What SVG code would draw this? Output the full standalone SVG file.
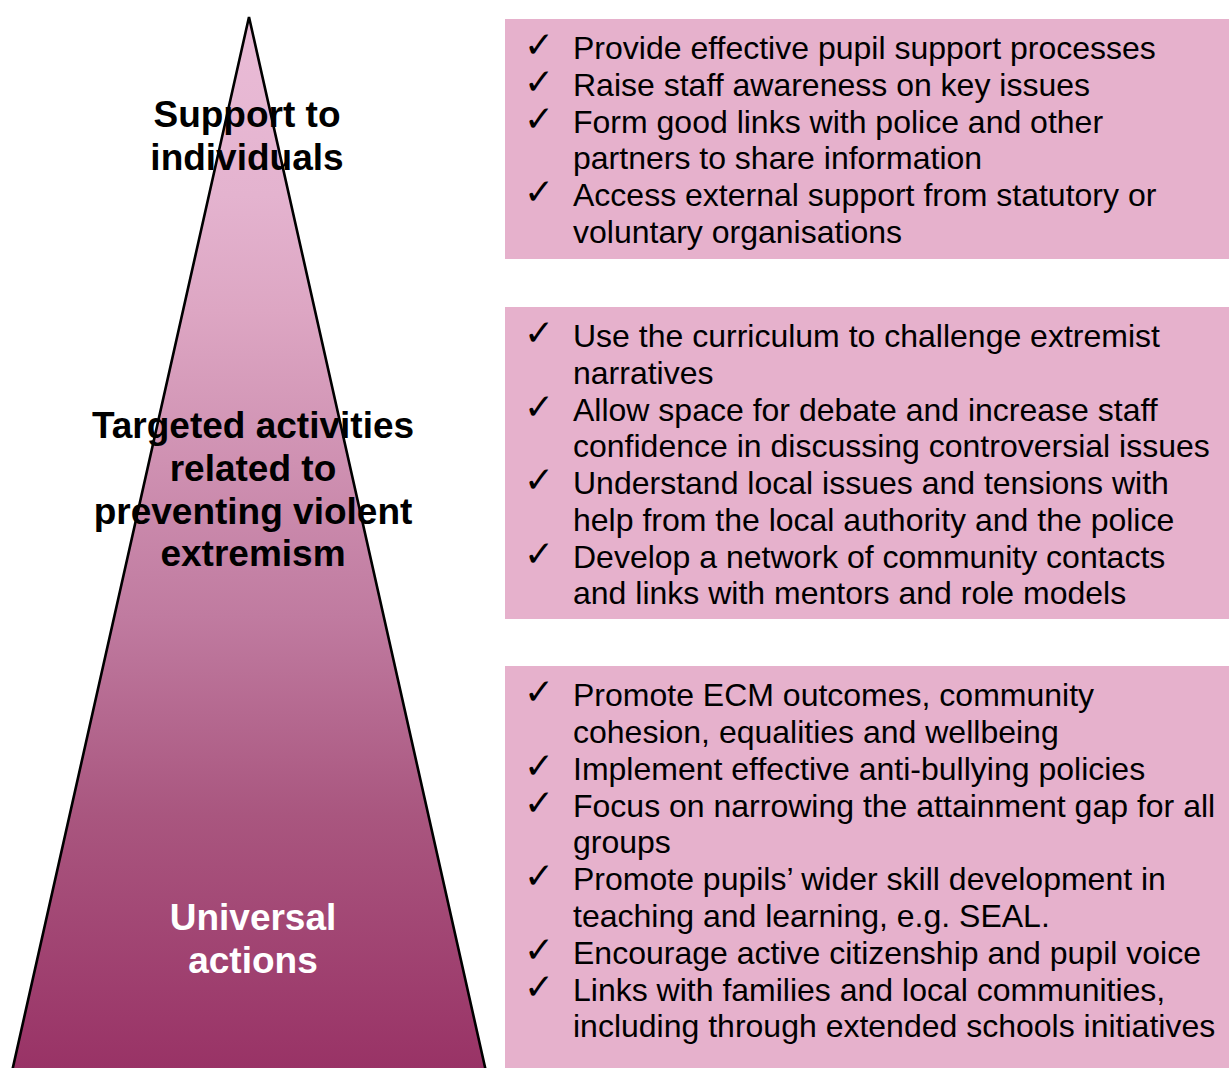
<svg xmlns="http://www.w3.org/2000/svg" width="1229" height="1068" viewBox="0 0 1229 1068">
  <defs>
    <linearGradient id="pyramidFill" gradientUnits="userSpaceOnUse" x1="0" y1="17" x2="0" y2="1068">
      <stop offset="0" stop-color="#EABCD7"/>
      <stop offset="0.17" stop-color="#E4B3CF"/>
      <stop offset="0.28" stop-color="#DDA6C3"/>
      <stop offset="0.57" stop-color="#C07BA0"/>
      <stop offset="0.76" stop-color="#A9567F"/>
      <stop offset="1" stop-color="#993366"/>
    </linearGradient>
    <style>
      .box { fill: #E6B1CC; }
      .item { font-family: "Liberation Sans", Arial, sans-serif; font-size: 32px; fill: #000; }
      .tick { font-family: "DejaVu Sans", sans-serif; font-size: 36px; fill: #000; }
      .label { font-family: "Liberation Sans", Arial, sans-serif; font-size: 37px; font-weight: bold; text-anchor: middle; fill: #000; }
      .label.light { fill: #fff; }
    </style>
  </defs>
  <rect width="1229" height="1068" fill="#fff"/>

  <!-- pyramid -->
  <g id="pyramid">
    <polygon points="249,17 11,1076 487,1076" fill="url(#pyramidFill)" stroke="#000" stroke-width="2.6" stroke-linejoin="miter"/>
  </g>

  <!-- tier labels on the pyramid -->
  <g id="label-individuals">
    <text class="label" x="247" y="127">Support to</text>
    <text class="label" x="247" y="170">individuals</text>
  </g>
  <g id="label-targeted">
    <text class="label" x="253" y="438">Targeted activities</text>
    <text class="label" x="253" y="481">related to</text>
    <text class="label" x="253" y="524">preventing violent</text>
    <text class="label" x="253" y="566">extremism</text>
  </g>
  <g id="label-universal">
    <text class="label light" x="253" y="930">Universal</text>
    <text class="label light" x="253" y="973">actions</text>
  </g>

  <!-- box: support to individuals -->
  <g id="box-individuals">
    <rect class="box" x="505" y="19" width="724" height="240"/>
    <text class="tick" x="524" y="57">✓</text>
    <text class="item" x="573" y="59">Provide effective pupil support processes</text>
    <text class="tick" x="524" y="94">✓</text>
    <text class="item" x="573" y="96">Raise staff awareness on key issues</text>
    <text class="tick" x="524" y="131">✓</text>
    <text class="item" x="573" y="133">Form good links with police and other</text>
    <text class="item" x="573" y="169">partners to share information</text>
    <text class="tick" x="524" y="204">✓</text>
    <text class="item" x="573" y="206">Access external support from statutory or</text>
    <text class="item" x="573" y="243">voluntary organisations</text>
  </g>

  <!-- box: targeted activities -->
  <g id="box-targeted">
    <rect class="box" x="505" y="307" width="724" height="312"/>
    <text class="tick" x="524" y="345">✓</text>
    <text class="item" x="573" y="347">Use the curriculum to challenge extremist</text>
    <text class="item" x="573" y="384">narratives</text>
    <text class="tick" x="524" y="419">✓</text>
    <text class="item" x="573" y="421">Allow space for debate and increase staff</text>
    <text class="item" x="573" y="457">confidence in discussing controversial issues</text>
    <text class="tick" x="524" y="492">✓</text>
    <text class="item" x="573" y="494">Understand local issues and tensions with</text>
    <text class="item" x="573" y="531">help from the local authority and the police</text>
    <text class="tick" x="524" y="566">✓</text>
    <text class="item" x="573" y="568">Develop a network of community contacts</text>
    <text class="item" x="573" y="604">and links with mentors and role models</text>
  </g>

  <!-- box: universal actions -->
  <g id="box-universal">
    <rect class="box" x="505" y="666" width="724" height="402"/>
    <text class="tick" x="524" y="704">✓</text>
    <text class="item" x="573" y="706">Promote ECM outcomes, community</text>
    <text class="item" x="573" y="743">cohesion, equalities and wellbeing</text>
    <text class="tick" x="524" y="778">✓</text>
    <text class="item" x="573" y="780">Implement effective anti-bullying policies</text>
    <text class="tick" x="524" y="815">✓</text>
    <text class="item" x="573" y="817">Focus on narrowing the attainment gap for all</text>
    <text class="item" x="573" y="853">groups</text>
    <text class="tick" x="524" y="888">✓</text>
    <text class="item" x="573" y="890">Promote pupils’ wider skill development in</text>
    <text class="item" x="573" y="927">teaching and learning, e.g. SEAL.</text>
    <text class="tick" x="524" y="962">✓</text>
    <text class="item" x="573" y="964">Encourage active citizenship and pupil voice</text>
    <text class="tick" x="524" y="999">✓</text>
    <text class="item" x="573" y="1001">Links with families and local communities,</text>
    <text class="item" x="573" y="1037">including through extended schools initiatives</text>
  </g>
</svg>
